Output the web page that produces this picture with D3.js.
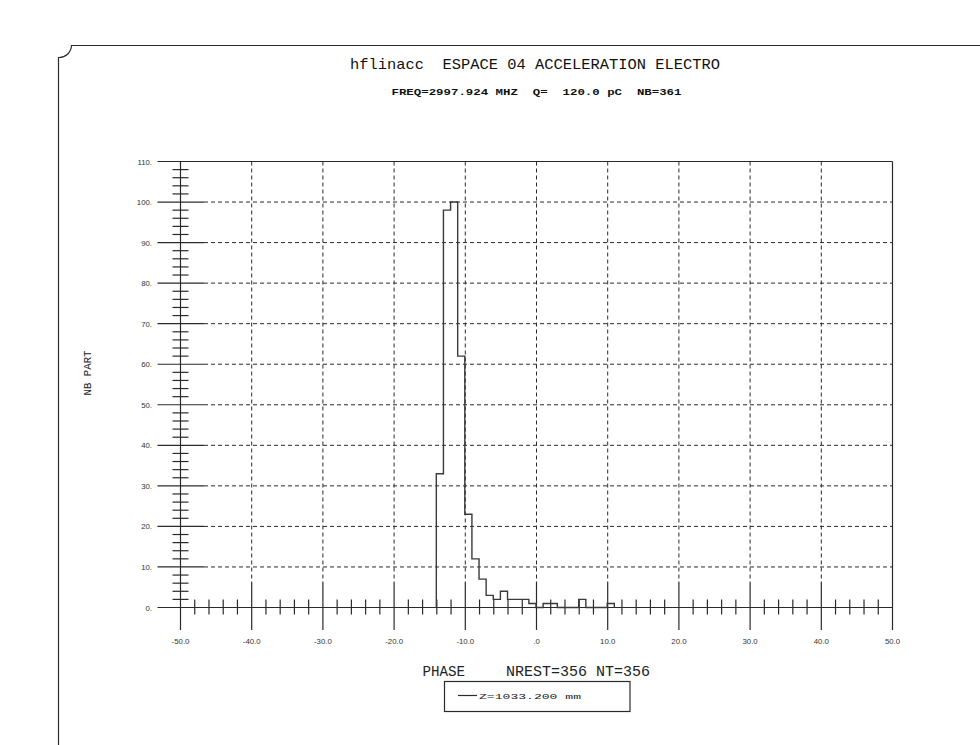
<!DOCTYPE html>
<html>
<head>
<meta charset="utf-8">
<script src="https://cdn.jsdelivr.net/npm/d3@7"></script>
<style>
  html, body { margin: 0; padding: 0; background: #fff; }
  svg { display: block; }
</style>
</head>
<body>
<script>
// Phase distribution of the electron bunch (histogram, 1-degree bins)
const titleText = "hflinacc  ESPACE 04 ACCELERATION ELECTRO";
const subtitleText = "FREQ=2997.924 MHZ  Q=  120.0 pC  NB=361";
const xAxisName = "PHASE";
const countsText = "NREST=356 NT=356";
const yAxisName = "NB PART";
const legendText = "Z=1033.200 mm";

const xTickValues = [-50, -40, -30, -20, -10, 0, 10, 20, 30, 40, 50];
const xTickLabels = ["-50.0", "-40.0", "-30.0", "-20.0", "-10.0", ".0", "10.0", "20.0", "30.0", "40.0", "50.0"];
const yTickValues = [0, 10, 20, 30, 40, 50, 60, 70, 80, 90, 100, 110];
const yTickLabels = ["0.", "10.", "20.", "30.", "40.", "50.", "60.", "70.", "80.", "90.", "100.", "110."];

const phaseBinStart = -14.07;   // left edge of the first bin (deg)
const phaseBinWidth = 1.0;      // deg
const binCounts = [33, 98, 100, 62, 23, 12, 7, 3, 2, 4, 2, 2, 2, 1, 0, 1, 1, 0, 0, 0, 2, 0, 0, 0, 1];

const W = 980, H = 745;
const svg = d3.select("body").append("svg").attr("width", W).attr("height", H);

const mono = "'Courier New', 'Liberation Mono', monospace";
const sans = "'Liberation Sans', Arial, sans-serif";
const ink = "#2a2a2a";

// page frame with rounded-in corner
svg.append("path")
  .attr("d", "M58.5,745 L58.5,57.5 A12.5,12.5 0 0 0 71.5,45.5 L980,45.5")
  .attr("fill", "none").attr("stroke", ink).attr("stroke-width", 1.2);

// titles
svg.append("text").attr("x", 535).attr("y", 68.5)
  .attr("text-anchor", "middle").attr("font-family", mono).attr("font-size", 15)
  .attr("textLength", 370).attr("lengthAdjust", "spacingAndGlyphs")
  .attr("fill", "#111").style("white-space", "pre").text(titleText);
svg.append("text").attr("x", 536.5).attr("y", 95)
  .attr("text-anchor", "middle").attr("font-family", mono).attr("font-size", 9.5)
  .attr("font-weight", "bold")
  .attr("textLength", 290).attr("lengthAdjust", "spacingAndGlyphs")
  .attr("fill", "#111").style("white-space", "pre").text(subtitleText);

// scales
const x = d3.scaleLinear().domain([-50, 50]).range([180.5, 892.5]);
const y = d3.scaleLinear().domain([0, 110]).range([607.5, 161.5]);

const g = svg.append("g");

// dashed grid
g.selectAll("line.vgrid").data(xTickValues.slice(1, -1)).join("line")
  .attr("x1", d => x(d)).attr("x2", d => x(d))
  .attr("y1", y(110)).attr("y2", 582)
  .attr("stroke", ink).attr("stroke-width", 1).attr("stroke-dasharray", "4,3");
g.selectAll("line.hgrid").data(yTickValues.slice(1, -1)).join("line")
  .attr("x1", 204).attr("x2", x(50))
  .attr("y1", d => y(d)).attr("y2", d => y(d))
  .attr("stroke", ink).attr("stroke-width", 1).attr("stroke-dasharray", "4,3");

// frame: top and right
g.append("line").attr("x1", 157.5).attr("x2", x(50)).attr("y1", y(110)).attr("y2", y(110))
  .attr("stroke", ink).attr("stroke-width", 1.2);
g.append("line").attr("x1", x(50)).attr("x2", x(50)).attr("y1", y(110)).attr("y2", 630)
  .attr("stroke", ink).attr("stroke-width", 1.2);

// y axis: spine, major and minor ticks
g.append("line").attr("x1", x(-50)).attr("x2", x(-50)).attr("y1", y(110)).attr("y2", 630)
  .attr("stroke", ink).attr("stroke-width", 1.2);
g.selectAll("line.ymaj").data(yTickValues.slice(1, -1)).join("line")
  .attr("x1", 157.5).attr("x2", 204)
  .attr("y1", d => y(d)).attr("y2", d => y(d))
  .attr("stroke", ink).attr("stroke-width", 1.2);
const yMinor = d3.range(2, 110, 2).filter(v => v % 10 !== 0);
g.selectAll("line.ymin").data(yMinor).join("line")
  .attr("x1", x(-50) - 8).attr("x2", x(-50) + 8)
  .attr("y1", d => y(d)).attr("y2", d => y(d))
  .attr("stroke", ink).attr("stroke-width", 1.2);
g.selectAll("text.ylab").data(yTickValues).join("text")
  .attr("x", 152).attr("y", d => y(d) + 3)
  .attr("text-anchor", "end").attr("font-family", sans).attr("font-size", 7.8)
  .attr("fill", "#333").text((d, i) => yTickLabels[i]);

// x axis: baseline, major and minor ticks
g.append("line").attr("x1", 157.5).attr("x2", x(50)).attr("y1", y(0)).attr("y2", y(0))
  .attr("stroke", ink).attr("stroke-width", 1.2);
g.selectAll("line.xmaj").data(xTickValues.slice(1, -1)).join("line")
  .attr("x1", d => x(d)).attr("x2", d => x(d))
  .attr("y1", 582).attr("y2", 630)
  .attr("stroke", ink).attr("stroke-width", 1.2);
const xMinor = d3.range(-48, 50, 2).filter(v => v % 10 !== 0);
g.selectAll("line.xmin").data(xMinor).join("line")
  .attr("x1", d => x(d)).attr("x2", d => x(d))
  .attr("y1", y(0) - 8).attr("y2", y(0) + 7)
  .attr("stroke", ink).attr("stroke-width", 1.2);
g.selectAll("text.xlab").data(xTickValues).join("text")
  .attr("x", d => x(d)).attr("y", 644)
  .attr("text-anchor", "middle").attr("font-family", sans).attr("font-size", 7.8)
  .attr("fill", "#333").text((d, i) => xTickLabels[i]);

// histogram outline
const pts = [[phaseBinStart, 0]];
binCounts.forEach((c, i) => {
  const a = phaseBinStart + i * phaseBinWidth;
  pts.push([a, c], [a + phaseBinWidth, c]);
});
pts.push([phaseBinStart + binCounts.length * phaseBinWidth, 0]);
g.append("path")
  .attr("d", d3.line().x(d => x(d[0])).y(d => y(d[1]))(pts))
  .attr("fill", "none").attr("stroke", "#3a3a3a").attr("stroke-width", 1.4);

// axis names
svg.append("text").attr("transform", "translate(91,373) rotate(-90)")
  .attr("text-anchor", "middle").attr("font-family", mono).attr("font-size", 11)
  .attr("textLength", 45).attr("lengthAdjust", "spacingAndGlyphs")
  .attr("fill", "#222").text(yAxisName);
svg.append("text").attr("x", 422.5).attr("y", 675.5)
  .attr("font-family", mono).attr("font-size", 14)
  .attr("textLength", 42.5).attr("lengthAdjust", "spacingAndGlyphs")
  .attr("fill", "#222").text(xAxisName);
svg.append("text").attr("x", 506).attr("y", 675.5)
  .attr("font-family", mono).attr("font-size", 14.5)
  .attr("textLength", 144).attr("lengthAdjust", "spacingAndGlyphs")
  .attr("fill", "#222").text(countsText);

// legend
svg.append("rect").attr("x", 444.5).attr("y", 681.5).attr("width", 185.5).attr("height", 30)
  .attr("fill", "none").attr("stroke", ink).attr("stroke-width", 1.2);
svg.append("line").attr("x1", 458).attr("x2", 477).attr("y1", 695.5).attr("y2", 695.5)
  .attr("stroke", ink).attr("stroke-width", 1.2);
svg.append("text").attr("x", 479).attr("y", 699)
  .attr("font-family", mono).attr("font-size", 8)
  .attr("textLength", 102).attr("lengthAdjust", "spacingAndGlyphs")
  .attr("fill", "#222").style("white-space", "pre").text(legendText);
</script>
</body>
</html>
